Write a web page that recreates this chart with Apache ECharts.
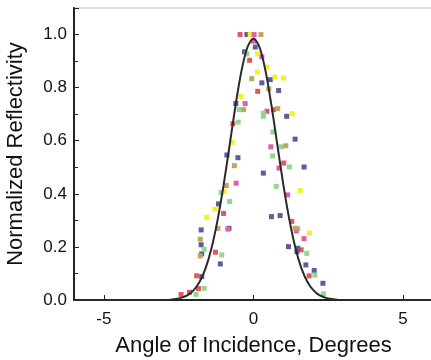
<!DOCTYPE html>
<html lang="en" style="height: 100%">
<head>
  <meta charset="utf-8">
  <title>Normalized Reflectivity</title>
</head>
<body style="height: 100%; margin: 0; background: #fff">
  <div id="container" style="width: 431px; height: 360px"></div>

  <script type="text/javascript" src="https://cdn.jsdelivr.net/npm/echarts@6.0.0/dist/echarts.min.js"></script>

  <script type="text/javascript">
    // fitted curve
    var curveX = [-6, -2.8, -2.6, -2.4, -2.2, -2.0, -1.8, -1.6, -1.4, -1.2, -1.0, -0.8, -0.6, -0.4, -0.2, 0,
                  0.2, 0.4, 0.6, 0.8, 1.0, 1.2, 1.4, 1.6, 1.8, 2.0, 2.2, 2.4, 2.6, 2.8, 6];
    var curveY = [0, 0.001, 0.004, 0.009, 0.018, 0.037, 0.069, 0.12, 0.197, 0.302, 0.433, 0.582, 0.733, 0.864, 0.953, 0.985,
                  0.953, 0.864, 0.733, 0.582, 0.433, 0.302, 0.197, 0.12, 0.069, 0.037, 0.018, 0.009, 0.004, 0.001, 0];

    // measured points, one list per colour: [angle, reflectivity]
    var redPts = [[-0.45, 1.0], [-0.13, 0.903], [0.14, 0.786], [-0.69, 0.664], [0.45, 0.711], [0.67, 0.717],
                  [1.01, 0.516], [-1.0, 0.326], [1.28, 0.296], [-1.27, 0.18], [1.59, 0.189], [1.86, 0.091],
                  [-1.9, 0.091], [-1.84, 0.043], [-2.14, 0.029], [-2.42, 0.021]];
    var bluePts = [[-0.22, 1.0], [0.06, 0.953], [-0.3, 0.935], [0.28, 0.818], [0.56, 0.83], [0.84, 0.789],
                   [-0.59, 0.74], [1.11, 0.692], [1.39, 0.606], [-0.89, 0.546], [-0.52, 0.536], [1.69, 0.501],
                   [0.33, 0.478], [-1.17, 0.362], [0.6, 0.314], [0.89, 0.318], [-0.82, 0.27], [-1.75, 0.264],
                   [-1.75, 0.208], [-1.73, 0.174], [1.17, 0.201], [1.48, 0.195], [1.45, 0.182], [-1.11, 0.136],
                   [1.75, 0.132], [2.03, 0.111], [-1.73, 0.088], [2.32, 0.063]];
    var greenPts = [[-0.22, 0.927], [-0.48, 0.717], [-0.51, 0.67], [0.33, 0.704], [0.33, 0.692], [0.65, 0.633],
                    [0.93, 0.577], [0.64, 0.543], [1.2, 0.501], [-1.08, 0.405], [0.76, 0.428], [-0.8, 0.371],
                    [1.48, 0.269], [-1.65, 0.191], [-1.06, 0.17], [1.78, 0.176], [2.05, 0.094], [-1.65, 0.044],
                    [-1.92, 0.021], [2.34, 0.023]];
    var yellowPts = [[-0.11, 1.0], [0.13, 0.928], [0.13, 0.859], [0.45, 0.877], [0.72, 0.84], [1.0, 0.836],
                     [-0.42, 0.767], [1.3, 0.702], [-0.71, 0.594], [-0.98, 0.409], [1.56, 0.413], [-1.29, 0.342],
                     [-1.56, 0.312], [1.87, 0.252]];
    var pinkPts = [[0.02, 1.0], [0.0, 0.975], [0.28, 0.916], [-0.28, 0.74], [0.58, 0.577], [0.85, 0.497],
                   [-0.58, 0.44], [1.14, 0.396], [-0.86, 0.267], [1.43, 0.26], [1.69, 0.231]];
    var olivePts = [[0.25, 1.0], [-0.06, 0.834], [0.51, 0.795], [-0.33, 0.717], [0.81, 0.721], [1.08, 0.581],
                    [-0.64, 0.506], [-0.91, 0.431], [-1.19, 0.27], [1.39, 0.27], [-1.78, 0.229], [-1.78, 0.166]];

    var font = "'Liberation Sans', Arial, sans-serif";

    var dom = document.getElementById('container');
    var myChart = echarts.init(dom, null, { renderer: 'canvas' });

    function pts(name, data, color) {
      return {
        name: name,
        type: 'scatter',
        symbol: 'rect',
        symbolSize: 5,
        data: data,
        itemStyle: { color: color, opacity: 1 },
        z: 3
      };
    }

    var option = {
      animation: false,
      backgroundColor: '#fff',
      grid: {
        left: 74, top: 8, right: -2, bottom: 60,
        outerBoundsMode: 'none',
        containLabel: false,
        show: true, borderColor: '#bdbdbd', borderWidth: 1
      },
      xAxis: {
        type: 'value',
        min: -6,
        max: 6,
        name: 'Angle of Incidence, Degrees',
        nameLocation: 'middle',
        nameGap: 35,
        nameTextStyle: { fontFamily: font, fontSize: 22, color: '#111', verticalAlign: 'top' },
        axisLine: { show: true, onZero: false, lineStyle: { color: '#222', width: 2 } },
        axisTick: { show: true, inside: true, length: 5, customValues: [-5, 0, 5], lineStyle: { color: '#222' } },
        axisLabel: { customValues: [-5, 0, 5], margin: 11, fontFamily: font, fontSize: 17, color: '#111' },
        splitLine: { show: false }
      },
      yAxis: {
        type: 'value',
        min: 0,
        max: 1.1,
        interval: 0.2,
        name: 'Normalized Reflectivity',
        nameLocation: 'middle',
        nameGap: 47,
        nameTextStyle: { fontFamily: font, fontSize: 22, color: '#111' },
        axisLine: { show: true, onZero: false, lineStyle: { color: '#222', width: 2 } },
        axisTick: { show: true, inside: true, length: 5, lineStyle: { color: '#222' } },
        minorTick: { show: true, splitNumber: 2, length: 4, lineStyle: { color: '#222' } },
        axisLabel: {
          showMaxLabel: false, margin: 7, fontFamily: font, fontSize: 17, color: '#111',
          formatter: function (v) { return v.toFixed(1); }
        },
        splitLine: { show: false },
        minorSplitLine: { show: false }
      },
      series: [
        pts('red', redPts, '#e2595b'),
        pts('blue', bluePts, '#5c5c9e'),
        pts('green', greenPts, '#8ed98e'),
        pts('yellow', yellowPts, '#f2f224'),
        pts('pink', pinkPts, '#e35ea9'),
        pts('olive', olivePts, '#c4a45c'),
        {
          name: 'fit',
          type: 'line',
          smooth: 0.3,
          symbol: 'none',
          data: curveX.map(function (x, i) { return [x, curveY[i]]; }),
          lineStyle: { color: '#2a2a2a', width: 2 },
          z: 4
        }
      ]
    };

    myChart.setOption(option);

    window.addEventListener('resize', function () {
      myChart.resize();
    });
  </script>
</body>
</html>
